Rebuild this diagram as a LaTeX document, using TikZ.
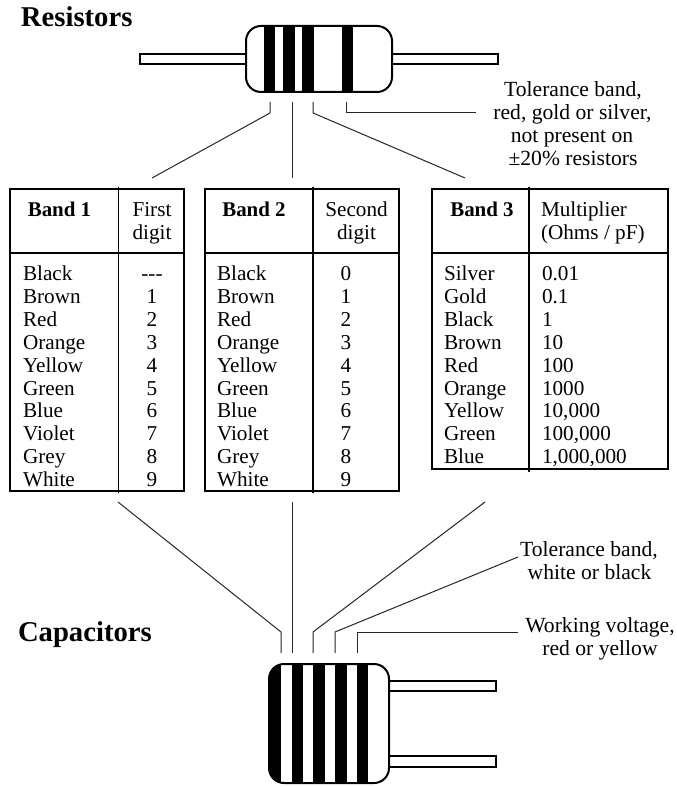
\documentclass[tikz,border=0pt]{standalone}
\usepackage{fontspec}
\setmainfont{Liberation Serif}
\newcommand{\bodyfont}{\fontsize{15.9}{17}\selectfont}
\newcommand{\notefont}{\fontsize{16.2}{17}\selectfont}
\tikzset{
  every node/.style={inner sep=0pt,outer sep=0pt,text=black},
  title/.style={anchor=base west,font=\fontsize{21.5}{25}\selectfont\bfseries},
  leftcell/.style={anchor=base west,font=\bodyfont},
  midcell/.style={anchor=base,font=\bodyfont},
  note/.style={anchor=base,font=\notefont},
  headcell/.style={anchor=base,font=\fontsize{15.7}{17}\selectfont\bfseries},
  frame/.style={line width=1.4pt,line cap=rect},
  wire/.style={line width=0.75pt,black!85},
  outline/.style={line width=1.5pt,fill=white},
}
\begin{document}
\begin{tikzpicture}[x=0.75pt,y=-0.75pt]
\useasboundingbox (0,0) rectangle (676,787);

\node[title] (restitle) at (21,27) {Resistors};
\node[title] (captitle) at (18,641) {Capacitors};

% Resistor: leads, body and colour bands
\draw[outline] (140,54) rectangle (260,64);
\draw[outline] (380,54) rectangle (498,64);
\begin{scope}
  \clip[rounded corners=11.25pt] (246,26) rectangle (392,92);
  \fill[white] (246,26) rectangle (392,92);
  \foreach \l/\r in {264/275,283/295,302/314,342/353}
    \fill[black] (\l,26) rectangle (\r,92);
\end{scope}
\draw[line width=1.5pt,rounded corners=11.25pt] (246,26) rectangle (392,92);

% Resistor connectors
\coordinate (ra1) at (270,102);
\coordinate (ra2) at (270,113);
\coordinate (ra3) at (152,178);
\coordinate (rb1) at (292,102);
\coordinate (rb2) at (292,178);
\coordinate (rc1) at (313,102);
\coordinate (rc2) at (313,113);
\coordinate (rc3) at (465,178);
\coordinate (rd1) at (346,102);
\coordinate (rd2) at (346,113);
\coordinate (rd3) at (476,113);
\draw[wire] (ra1) -- (ra2) -- (ra3);
\draw[wire] (rb1) -- (rb2);
\draw[wire] (rc1) -- (rc2) -- (rc3);
\draw[wire] (rd1) -- (rd2) -- (rd3);

% Resistor tolerance note
\node[note] (rn1) at (573,97) {Tolerance band,};
\node[note] (rn2) at (572.5,120) {red, gold or silver,};
\node[note] (rn3) at (572,143) {not present on};
\node[note] (rn4) at (573,166) {±20\% resistors};

% Table frames
\draw[frame] (10,189) rectangle (184,491);
\draw[frame] (10,253) -- (184,253);
\draw[frame] (118.5,187.5) -- (118.5,492.5);
\draw[frame] (205,189) rectangle (399,491);
\draw[frame] (205,253) -- (399,253);
\draw[frame] (313,187.5) -- (313,492.5);
\draw[frame] (432,189) rectangle (668,469);
\draw[frame] (432,253) -- (668,253);
\draw[frame] (529,187.5) -- (529,471);

% Table headings
\node[headcell] (h1) at (59.5,217) {Band 1};
\node[midcell] (h1a) at (152,217) {First};
\node[midcell] (h1b) at (152,240) {digit};
\node[headcell] (h2) at (254,217) {Band 2};
\node[midcell] (h2a) at (356.5,217) {Second};
\node[midcell] (h2b) at (356.5,240) {digit};
\node[headcell] (h3) at (482,217) {Band 3};
\node[leftcell] (h3a) at (541,217) {Multiplier};
\node[leftcell] (h3b) at (541,240) {(Ohms / pF)};

% Table rows
\foreach \colour/\first/\second [count=\i from 0] in
  {Black/{-{}-{}-}/0,Brown/1/1,Red/2/2,Orange/3/3,Yellow/4/4,Green/5/5,Blue/6/6,Violet/7/7,Grey/8/8,White/9/9}{
  \node[leftcell] (a\i) at (23,{281+22.8*\i}) {\colour};
  \node[midcell] (b\i) at (152,{281+22.8*\i}) {\first};
  \node[leftcell] (c\i) at (217,{281+22.8*\i}) {\colour};
  \node[midcell] (d\i) at (346,{281+22.8*\i}) {\second};
}
\foreach \colour/\factor [count=\i from 0] in
  {Silver/0.01,Gold/0.1,Black/1,Brown/10,Red/100,Orange/1000,Yellow/{10,000},Green/{100,000},Blue/{1,000,000}}{
  \node[leftcell] (e\i) at (444,{281+22.8*\i}) {\colour};
  \node[leftcell] (f\i) at (542,{281+22.8*\i}) {\factor};
}

% Capacitor connectors
\coordinate (ca1) at (281,653);
\coordinate (ca2) at (281,632);
\coordinate (ca3) at (118,502);
\coordinate (cb1) at (292,653);
\coordinate (cb2) at (292,502);
\coordinate (cc1) at (313,653);
\coordinate (cc2) at (313,632);
\coordinate (cc3) at (485,502);
\coordinate (cd1) at (335,653);
\coordinate (cd2) at (335,632);
\coordinate (cd3) at (518,557);
\coordinate (ce1) at (357,653);
\coordinate (ce2) at (357,632);
\coordinate (ce3) at (518,632);
\draw[wire] (ca1) -- (ca2) -- (ca3);
\draw[wire] (cb1) -- (cb2);
\draw[wire] (cc1) -- (cc2) -- (cc3);
\draw[wire] (cd1) -- (cd2) -- (cd3);
\draw[wire] (ce1) -- (ce2) -- (ce3);

% Capacitor notes
\node[note] (cn1) at (589,556) {Tolerance band,};
\node[note] (cn2) at (589.5,579) {white or black};
\node[note] (cn3) at (600,632) {Working voltage,};
\node[note] (cn4) at (600,655) {red or yellow};

% Capacitor: leads, body and colour bands
\draw[outline] (380,681) rectangle (496,691);
\draw[outline] (380,756) rectangle (496,767);
\begin{scope}
  \clip[rounded corners=11.25pt] (269,664) rectangle (389,783);
  \fill[white] (269,664) rectangle (389,783);
  \foreach \l/\r in {269/281,292/303,313/325,335/347,357/368}
    \fill[black] (\l,664) rectangle (\r,783);
\end{scope}
\draw[line width=1.5pt,rounded corners=11.25pt] (269,664) rectangle (389,783);
\end{tikzpicture}
\end{document}
